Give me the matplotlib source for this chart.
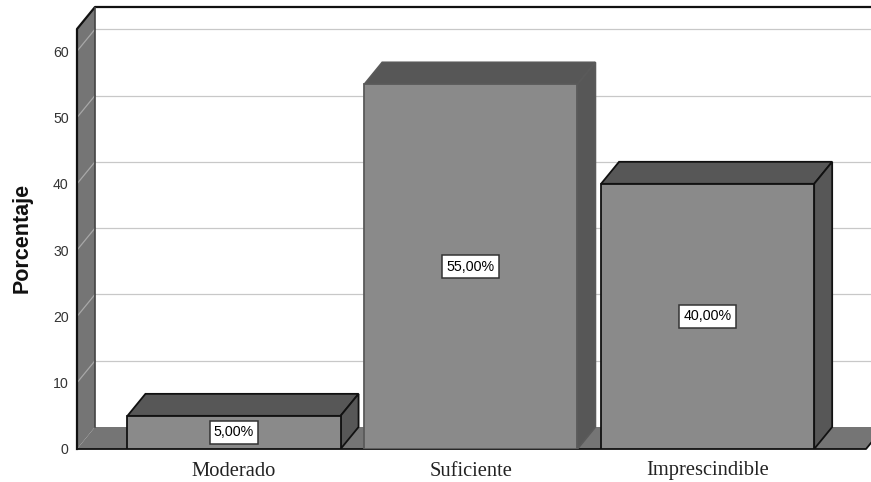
import matplotlib
matplotlib.use("Agg")
import matplotlib.pyplot as plt
from matplotlib.patches import Polygon

# Datos de la tabla de frecuencias
categorias = ["Moderado", "Suficiente", "Imprescindible"]
porcentajes = [5.0, 55.0, 40.0]
etiquetas = ["5,00%", "55,00%", "40,00%"]
ticks_y = [0, 10, 20, 30, 40, 50, 60]
bordes = ["#111111", "#5a5a5a", "#111111"]

# Profundidad del efecto 3D (en unidades de los ejes)
ANCHO = 0.9
DX = 18 / 236.75
DY = 22 / 6.63

GRIS_SUELO = "#757575"
GRIS_FRENTE = "#8a8a8a"
GRIS_LADO = "#575757"
GRIS_REJILLA = "#c8c8c8"

fig = plt.figure(figsize=(8.71, 4.82), dpi=100)
ax = fig.add_axes([77 / 871, 33 / 482, 794 / 871, 442 / 482])
ax.set_xlim(-0.663, 2.69)
ax.set_ylim(0, 66.67)
for spine in ax.spines.values():
    spine.set_visible(False)

x_izq = ax.get_xlim()[0]
x_der = 2.669
y_tope = ax.get_ylim()[1]


def caja(x0, x1, valor, borde):
    # Cara superior, lateral y frontal de una barra
    sup = [(x0, valor), (x0 + DX, valor + DY), (x1 + DX, valor + DY), (x1, valor)]
    lat = [(x1, 0), (x1 + DX, DY), (x1 + DX, valor + DY), (x1, valor)]
    ax.add_patch(Polygon(sup, fc=GRIS_LADO, ec=borde, lw=1.3, zorder=5))
    ax.add_patch(Polygon(lat, fc=GRIS_LADO, ec=borde, lw=1.3, zorder=5))
    ax.bar((x0 + x1) / 2, valor, width=x1 - x0, color=GRIS_FRENTE,
           edgecolor=borde, linewidth=1.3, zorder=6)


# Suelo y pared izquierda
suelo = [(x_izq, 0), (x_izq + DX, DY), (x_der + DX, DY), (x_der, 0)]
ax.add_patch(Polygon(suelo, fc=GRIS_SUELO, ec="none", zorder=1))
pared = [(x_izq, 0), (x_izq + DX, DY), (x_izq + DX, y_tope), (x_izq, y_tope - DY)]
ax.add_patch(Polygon(pared, fc=GRIS_SUELO, ec="none", zorder=1))

# Rejilla sobre pared de fondo y pared izquierda
for t in ticks_y[1:]:
    ax.plot([x_izq + DX, 2.69], [t + DY, t + DY], color=GRIS_REJILLA, lw=0.9, zorder=2)
    ax.plot([x_izq, x_izq + DX], [t, t + DY], color="#a8a8a8", lw=0.9, zorder=2)

# Contornos de la pared y del suelo
ax.plot([x_izq, x_izq, x_izq + DX, 2.69], [0, y_tope - DY, y_tope, y_tope],
        color="#111111", lw=1.6, zorder=3, clip_on=False)
ax.plot([x_izq + DX, x_izq + DX], [DY, y_tope], color="#444444", lw=1.2, zorder=3)
ax.plot([x_izq, x_der, x_der + DX], [0, 0, DY], color="#111111", lw=1.3, zorder=3,
        clip_on=False)

# Barras
for i, valor in enumerate(porcentajes):
    caja(i - ANCHO / 2, i + ANCHO / 2, valor, bordes[i])
    ax.text(i, valor / 2, etiquetas[i], ha="center", va="center", fontsize=10.3,
            family="Liberation Sans", color="black", zorder=8,
            bbox=dict(boxstyle="square,pad=0.3", fc="white", ec="#333333", lw=1.1))

ax.set_xticks(range(len(categorias)))
ax.set_xticklabels(categorias, family="Liberation Serif", fontsize=14.8, color="#222222")
ax.set_yticks(ticks_y)
ax.set_yticklabels([str(t) for t in ticks_y], family="Liberation Sans", fontsize=10.2,
                   color="#333333")
ax.tick_params(axis="both", length=0)
ax.tick_params(axis="x", pad=9)
ax.tick_params(axis="y", pad=6)

fig.text(22 / 871, 1 - 238 / 482, "Porcentaje", rotation=90, ha="center", va="center",
         family="Liberation Sans", fontweight="bold", fontsize=15.5, color="#111111")

fig.savefig("out.png", dpi=100, facecolor="white")
